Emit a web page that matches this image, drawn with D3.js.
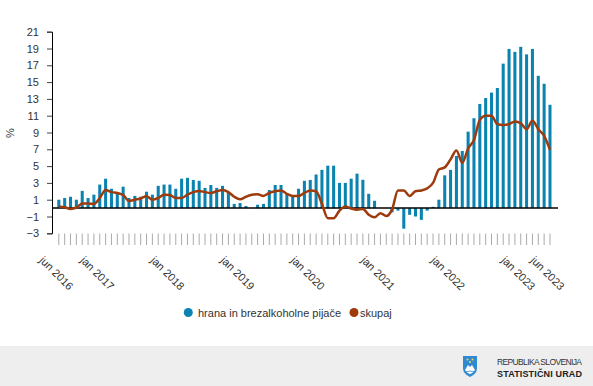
<!DOCTYPE html>
<html>
<head>
<meta charset="utf-8">
<script src="https://cdn.jsdelivr.net/npm/d3@7"></script>
<style>
  body { margin: 0; background: #fff; }
  svg { display: block; font-family: "Liberation Sans", Arial, sans-serif; }
</style>
</head>
<body>
<svg id="chart" width="593" height="386"></svg>
<script>
// months jun 2016 .. jun 2023
var monthNames = ["jan", "feb", "mar", "apr", "maj", "jun", "jul", "avg", "sep", "okt", "nov", "dec"];
var months = d3.timeMonth.range(new Date(2016, 5, 1), new Date(2023, 6, 1)).map(function(d) {
	return monthNames[d.getMonth()] + " " + d.getFullYear();
});
var xTickLabels = ["jun 2016", "jan 2017", "jan 2018", "jan 2019", "jan 2020", "jan 2021", "jan 2022", "jan 2023", "jun 2023"];
var yTicks = [-3, -1, 1, 3, 5, 7, 9, 11, 13, 15, 17, 19, 21];

// hrana in brezalkoholne pijače
var food = [1.0, 1.2, 1.35, 1.0, 2.05, 1.2, 1.6, 2.8, 3.5, 2.3, 1.8, 2.55,
	1.2, 1.45, 1.35, 1.95, 1.6, 2.65, 2.8, 2.8, 2.3, 3.5, 3.6, 3.35,
	3.25, 2.4, 2.75, 2.4, 2.65, 1.8, 0.5, 0.6, 0.25, 0.0, 0.4, 0.5,
	2.15, 2.75, 2.75, 1.75, 1.4, 2.3, 3.25, 3.35, 4.0, 4.55, 5.05, 5.05,
	3.0, 3.0, 3.5, 4.1, 3.37, 1.7, 0.87, 0.0, 0.0, -0.5, -0.3, -2.45,
	-0.8, -1.0, -1.4, -0.3, 0.15, 1.0, 3.9, 4.55, 6.2, 6.8, 9.1, 10.7,
	12.4, 13.1, 13.75, 14.3, 17.2, 18.95, 18.6, 19.2, 18.3, 18.95, 15.75, 14.8,
	12.3];
// skupaj
var total = [0.2, 0.1, -0.1, 0.05, 0.55, 0.55, 0.5, 1.2, 2.15, 1.9, 1.8, 1.55,
	0.85, 1.0, 1.15, 1.4, 1.0, 1.2, 1.6, 1.55, 1.2, 1.2, 1.6, 1.9,
	2.05, 1.9, 1.8, 2.0, 2.15, 1.9, 1.35, 1.05, 1.35, 1.6, 1.65, 1.45,
	1.8, 2.0, 2.1, 1.7, 1.45, 1.45, 1.8, 2.1, 2.0, 0.5, -1.2, -1.2,
	-0.3, 0.2, -0.05, -0.2, -0.1, -0.8, -1.1, -0.6, -0.95, -0.15, 2.1, 2.1,
	1.45, 2.0, 2.1, 2.35, 3.0, 4.6, 4.85, 5.8, 6.85, 5.4, 7.1, 8.1,
	10.5, 11.0, 11.0, 10.0, 9.9, 10.0, 10.3, 10.1, 9.4, 10.4, 9.4, 8.6,
	6.95];

var seriesNames = ["hrana in brezalkoholne pijače", "skupaj"];
var barColor = "#0a83b0";
var lineColor = "#9e3b0c";

var svg = d3.select("#chart");

var x = d3.scaleBand()
	.domain(months)
	.range([54.5, 554.3])
	.padding(0.48);
var y = d3.scaleLinear()
	.domain([-3, 21])
	.range([233.3, 31.7]);

function cx(m) { return x(m) + x.bandwidth() / 2; }

// y axis
var yAxis = svg.append("g")
	.attr("transform", "translate(52,0)")
	.call(d3.axisLeft(y).tickValues(yTicks).tickSize(5).tickPadding(8));
yAxis.select(".domain").attr("stroke", "#000");
yAxis.selectAll(".tick line").attr("stroke", "#444");
yAxis.selectAll(".tick text")
	.attr("fill", "#333")
	.style("font-size", "11px")
	.style("font-family", "Liberation Sans, Arial, sans-serif");

svg.append("text")
	.attr("transform", "translate(14,133) rotate(-90)")
	.attr("text-anchor", "middle")
	.attr("fill", "#333")
	.style("font-size", "11px")
	.text("%");

// bars
svg.append("g").selectAll("rect")
	.data(food).enter()
	.append("rect")
	.attr("x", function(d, i) { return x(months[i]); })
	.attr("width", x.bandwidth())
	.attr("y", function(d) { return y(Math.max(0, d)); })
	.attr("height", function(d) { return Math.abs(y(d) - y(0)); })
	.attr("fill", barColor);

// zero line
svg.append("line")
	.attr("x1", 52).attr("x2", 558)
	.attr("y1", y(0)).attr("y2", y(0))
	.attr("stroke", "#000")
	.attr("stroke-width", 1.5);

// line
var line = d3.line()
	.x(function(d, i) { return cx(months[i]); })
	.y(function(d) { return y(d); })
	.curve(d3.curveMonotoneX);
svg.append("path")
	.datum(total)
	.attr("d", line)
	.attr("fill", "none")
	.attr("stroke", lineColor)
	.attr("stroke-width", 2.5)
	.attr("stroke-linejoin", "round");

// x ticks
svg.append("g").selectAll("line")
	.data(months).enter()
	.append("line")
	.attr("x1", function(d) { return cx(d); })
	.attr("x2", function(d) { return cx(d); })
	.attr("y1", 233.5).attr("y2", 245)
	.attr("stroke", "#aaa")
	.attr("stroke-width", 1);

svg.append("g").selectAll("text")
	.data(months.filter(function(m) { return xTickLabels.indexOf(m) >= 0; })).enter()
	.append("text")
	.attr("transform", function(d) { return "translate(" + (cx(d) - 20) + ",261) rotate(45)"; })
	.attr("fill", "#333")
	.style("font-size", "11px")
	.text(function(d) { return d; });

// legend
var legend = svg.append("g").style("font-size", "11px");
legend.append("circle").attr("cx", 188.3).attr("cy", 312.5).attr("r", 4.5).attr("fill", barColor);
legend.append("text").attr("x", 198).attr("y", 316.5).attr("fill", "#333").text(seriesNames[0]);
legend.append("circle").attr("cx", 354).attr("cy", 312.5).attr("r", 4.5).attr("fill", lineColor);
legend.append("text").attr("x", 360).attr("y", 316.5).attr("fill", "#333").text(seriesNames[1]);

// footer
svg.append("rect")
	.attr("x", 0).attr("y", 346)
	.attr("width", 593).attr("height", 40)
	.attr("fill", "#eeeeee");

var logo = svg.append("g").attr("transform", "translate(463,356)");
logo.append("path")
	.attr("d", "M0,0 L14,0 L14,12 Q14,18 7,21 Q0,18 0,12 Z")
	.attr("fill", "#2f8ad0");
logo.append("path")
	.attr("d", "M2,14 L5,9 L7,11 L9,9 L12,14 Q10,17 7,18 Q4,17 2,14 Z")
	.attr("fill", "#fff");
logo.append("path")
	.attr("d", "M3,16 Q7,14 11,16")
	.attr("stroke", "#2f8ad0").attr("fill", "none").attr("stroke-width", 0.8);
[[4.5, 3.5], [9.5, 3.5], [7, 6]].forEach(function(p) {
	logo.append("circle").attr("cx", p[0]).attr("cy", p[1]).attr("r", 1).attr("fill", "#f3d35a");
});

svg.append("text")
	.attr("x", 497).attr("y", 365)
	.attr("fill", "#333")
	.attr("textLength", 85)
	.style("font-size", "8.5px")
	.text("REPUBLIKA SLOVENIJA");
svg.append("text")
	.attr("x", 497).attr("y", 377)
	.attr("fill", "#222")
	.attr("textLength", 85)
	.style("font-size", "9px")
	.style("font-weight", "bold")
	.text("STATISTIČNI URAD");
</script>
</body>
</html>
